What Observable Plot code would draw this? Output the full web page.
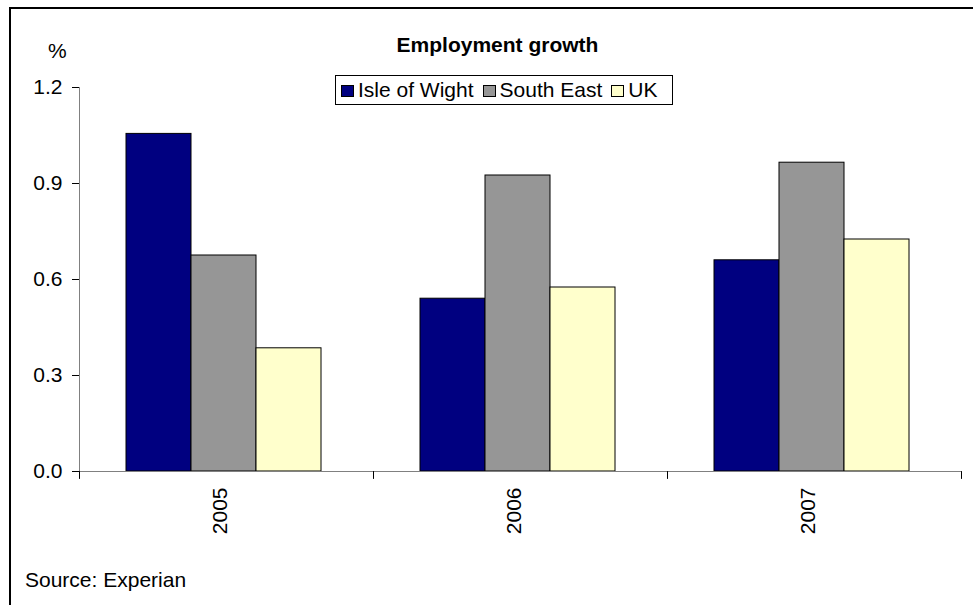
<!DOCTYPE html>
<html>
<head>
<meta charset="utf-8">
<script src="https://cdn.jsdelivr.net/npm/d3@7"></script>
<script src="https://cdn.jsdelivr.net/npm/@observablehq/plot@0.6"></script>
<style>
  html, body { margin: 0; padding: 0; background: #fff; overflow: hidden; }
  #wrap { position: relative; width: 973px; height: 605px; overflow: hidden; font-family: "Liberation Sans", Arial, sans-serif; color: #000; }
  #border { position: absolute; left: 9px; top: 7px; width: 1000px; height: 700px; border: 2px solid #000; }
  #chart { position: absolute; left: 0; top: 0; }
  .lbl { position: absolute; white-space: nowrap; line-height: 21px; }
  #legend { position: absolute; left: 335px; top: 75px; width: 338px; height: 30px; box-sizing: border-box;
            border: 1px solid #000; display: flex; align-items: center; padding-left: 5px; font-size: 21px; background: #fff; }
  .item { display: flex; align-items: center; margin-right: 9px; }
  .sw { width: 13px; height: 12px; box-sizing: border-box; border: 1px solid #000; margin-right: 4px; position: relative; top: 1px; }
</style>
</head>
<body>
<div id="wrap">
  <div id="border"></div>
  <div id="chart"></div>
  <div class="lbl" style="left:48px;top:40px;font-size:21px;">%</div>
  <div class="lbl" id="title" style="left:0;width:995px;text-align:center;top:34px;font-size:21px;font-weight:bold;">Employment growth</div>
  <div id="legend"></div>
  <div class="lbl" style="left:25px;top:569px;font-size:21px;">Source: Experian</div>
</div>
<script>
const years = ["2005", "2006", "2007"];
const series = ["Isle of Wight", "South East", "UK"];
const isleOfWight = [1.055, 0.54, 0.66];
const southEast = [0.675, 0.925, 0.965];
const uk = [0.385, 0.575, 0.725];
const colors = ["#000080", "#969696", "#FFFFCC"];
const yTicks = [0, 0.3, 0.6, 0.9, 1.2];

const valuesBySeries = [isleOfWight, southEast, uk];
const data = years.flatMap((yr, i) => series.map((s, j) => ({year: yr, series: s, value: valuesBySeries[j][i]})));

const W = 973, H = 605, mt = 87, mb = 134, ml = 78, mr = 11;
const plotH = H - mt - mb;
const lineShape = {draw(context, l) { context.moveTo(0, 0); context.lineTo(0, -l); }};

const chart = Plot.plot({
  width: W, height: H,
  marginLeft: ml, marginRight: mr, marginTop: mt, marginBottom: mb,
  style: {fontFamily: "Liberation Sans, Arial, sans-serif", fontSize: "21px", color: "#000", background: "transparent"},
  fx: {domain: years, padding: 0, axis: null, label: null},
  x: {domain: series, paddingInner: 0, paddingOuter: 0.756, align: 0.47, axis: null, label: null},
  y: {domain: [0, 1.2], label: null},
  color: {domain: series, range: colors},
  marks: [
    Plot.barY(data, {fx: "year", x: "series", y: "value", fill: "series", stroke: "#000", strokeWidth: 1}),
    Plot.ruleY([0], {stroke: "#808080", strokeWidth: 1}),
    Plot.vector(["2005"], {fx: d => d, frameAnchor: "bottom-left", length: plotH, rotate: 0, anchor: "start", shape: lineShape, stroke: "#808080", strokeWidth: 1}),
    Plot.vector(years, {fx: d => d, frameAnchor: "bottom-left", length: 7, rotate: 180, anchor: "start", shape: lineShape, stroke: "#000", strokeWidth: 1}),
    Plot.vector(["2007"], {fx: d => d, frameAnchor: "bottom-right", length: 7, rotate: 180, anchor: "start", shape: lineShape, stroke: "#000", strokeWidth: 1}),
    Plot.axisY({anchor: "left", ticks: yTicks, tickFormat: d3.format(".1f"), tickSize: 7, tickPadding: 10, fontSize: 21, stroke: "#000", label: null}),
    Plot.text(years, {fx: d => d, text: d => d, frameAnchor: "bottom", rotate: -90, textAnchor: "end", dy: 16, fontSize: 21, fill: "#000"})
  ]
});
document.getElementById("chart").appendChild(chart);

const legend = document.getElementById("legend");
series.forEach((s, j) => {
  const item = document.createElement("div");
  item.className = "item";
  const sw = document.createElement("div");
  sw.className = "sw";
  sw.style.background = colors[j];
  const t = document.createElement("span");
  t.textContent = s;
  item.appendChild(sw);
  item.appendChild(t);
  legend.appendChild(item);
});
</script>
</body>
</html>
